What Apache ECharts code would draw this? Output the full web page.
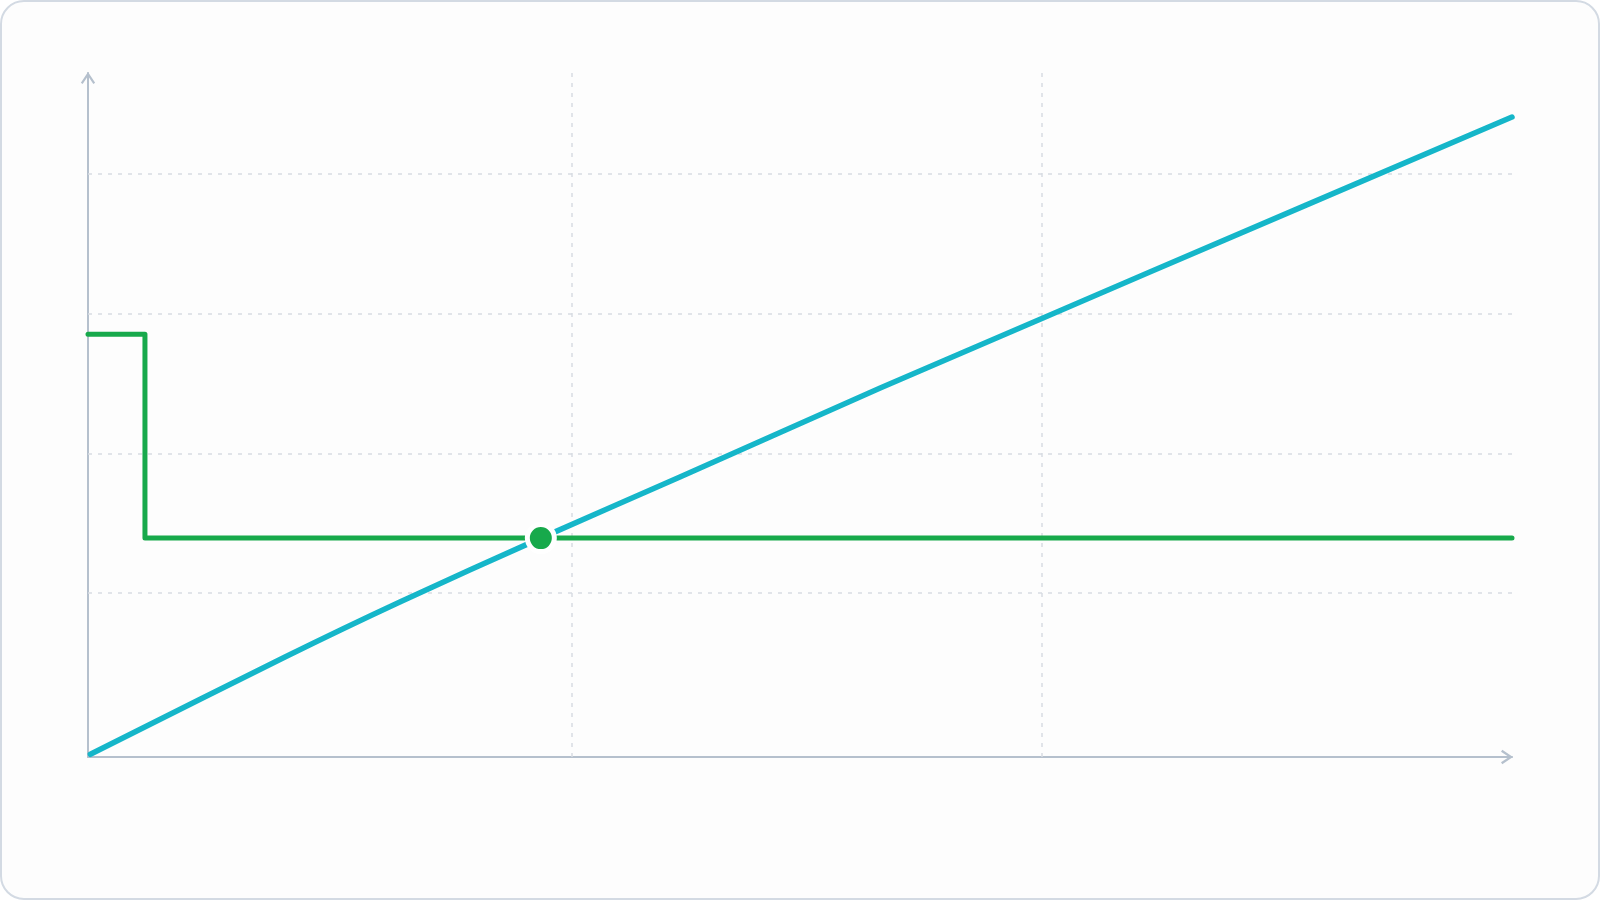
<!DOCTYPE html>
<html>
<head>
<meta charset="UTF-8">
<title>step vs line</title>
<script type="text/javascript" src="https://cdn.jsdelivr.net/npm/echarts@6/dist/echarts.min.js"></script>
<style>
	html, body { margin: 0; padding: 0; background: #ffffff; }
	#card {
		width: 1600px; height: 900px; box-sizing: border-box;
		border: 2px solid #d3dae3; border-radius: 24px;
		background: #fdfdfd; overflow: hidden;
	}
	#main { width: 1596px; height: 896px; }
</style>
</head>
<body>
	<div id="card"><div id="main"></div></div>
</body>
<script type="text/javascript">
	// 数据（坐标单位：x 0-3，y 0-5）
	var xMin = 0, xMax = 3;
	var yMin = 0, yMax = 5;

	// 折线（略向下弯的增长曲线）
	var curveX = [0.005, 0.415, 0.657, 0.954, 1.247, 1.669, 2.012, 2.237, 3.0];
	var curveY = [0.02, 0.731, 1.133, 1.60, 2.047, 2.697, 3.209, 3.545, 4.678];

	// 阶梯线
	var stepX = [0, 0.12, 3.0];
	var stepY = [3.09, 1.60, 1.60];

	// 交点
	var crossX = [0.954];
	var crossY = [1.60];

	// 虚线网格位置
	var gridX = [1.021, 2.012];
	var gridY = [1.2, 2.22, 3.24, 4.26];

	function zip(a, b) {
		return a.map(function (v, i) { return [v, b[i]]; });
	}

	var axisColor = '#b5c0cd';
	var dashColor = '#d7dce2';
	// 开口箭头（V 形）
	var chevron = 'path://M0,9 L6,0 L12,9 L10.5,10.1 L6,3.4 L1.5,10.1 Z';

	var myChart = echarts.init(document.getElementById('main'));

	var markData = [];
	gridX.forEach(function (v) { markData.push({ xAxis: v }); });
	gridY.forEach(function (v) { markData.push({ yAxis: v }); });

	var axisLineCfg = {
		show: true, onZero: false,
		lineStyle: { color: axisColor, width: 2 },
		symbol: ['none', chevron], symbolSize: [20, 12], symbolOffset: [0, -5]
	};

	var option = {
		animation: false,
		grid: { left: 86, right: 86, top: 71, bottom: 141 },
		xAxis: {
			type: 'value', min: xMin, max: xMax,
			axisLine: axisLineCfg,
			axisTick: { show: false }, axisLabel: { show: false }, splitLine: { show: false }
		},
		yAxis: {
			type: 'value', min: yMin, max: yMax,
			axisLine: axisLineCfg,
			axisTick: { show: false }, axisLabel: { show: false }, splitLine: { show: false }
		},
		series: [
			{
				type: 'line', data: [], z: 1, silent: true,
				markLine: {
					z: 1, silent: true, symbol: ['none', 'none'], label: { show: false },
					lineStyle: { color: dashColor, width: 1.5, type: [4, 6] },
					data: markData
				}
			},
			{
				name: 'curve', type: 'line', z: 3,
				data: zip(curveX, curveY),
				smooth: 0.3, showSymbol: false,
				lineStyle: { color: '#15b6c9', width: 5.5, cap: 'round', join: 'round' }
			},
			{
				name: 'step', type: 'line', z: 4,
				data: zip(stepX, stepY),
				step: 'end', showSymbol: false,
				lineStyle: { color: '#17a94b', width: 5, cap: 'round', join: 'round' }
			},
			{
				name: 'cross', type: 'scatter', z: 5,
				data: zip(crossX, crossY),
				symbolSize: 27,
				itemStyle: { color: '#17a94b', opacity: 1, borderColor: '#ffffff', borderWidth: 5 }
			}
		]
	};
	myChart.setOption(option);
</script>
</html>
